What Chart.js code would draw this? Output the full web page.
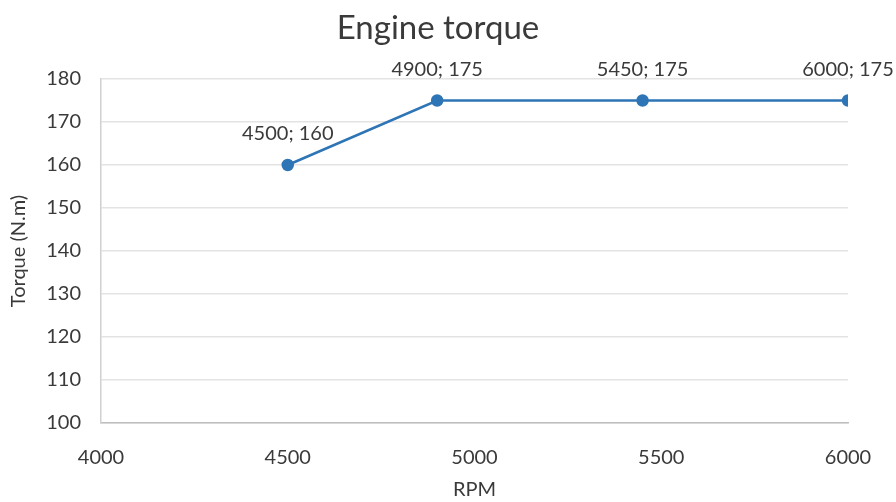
<!DOCTYPE html>
<html>
<head>
<meta charset="utf-8">
<script src="https://cdn.jsdelivr.net/npm/chart.js@4"></script>
<style>
    html, body { margin: 0; padding: 0; background: #fff; }
    #wrap { width: 896px; height: 502px; }
</style>
</head>
<body>
<div id="wrap"><canvas id="myChart" width="896" height="502"></canvas></div>
<script>
const rpm = [4500, 4900, 5450, 6000];
const torque = [160, 175, 175, 175];
const xTicks = [4000, 4500, 5000, 5500, 6000];
const yTicks = [100, 110, 120, 130, 140, 150, 160, 170, 180];
const chartTitle = 'Engine torque';

const fontFamily = 'Lato, "Open Sans", sans-serif';
const textColor = '#3a3a3a';

// draw "x; y" above each point, plus the title (slightly right of centre like the original)
const pointLabels = {
    id: 'pointLabels',
    afterDatasetsDraw(chart) {
        const ctx = chart.ctx;
        const meta = chart.getDatasetMeta(0);
        ctx.save();
        ctx.fillStyle = textColor;
        ctx.textAlign = 'center';
        ctx.textBaseline = 'middle';
        ctx.font = '33px ' + fontFamily;
        ctx.fillText(chartTitle, 438, 28);
        ctx.font = '20px ' + fontFamily;
        meta.data.forEach((pt, i) => {
            ctx.fillText(rpm[i] + '; ' + torque[i], pt.x, pt.y - 31);
        });
        ctx.restore();
    }
};

const ctx = document.getElementById('myChart').getContext('2d');

new Chart(ctx, {
    type: 'line',
    data: {
        datasets: [{
            data: rpm.map((x, i) => ({ x: x, y: torque[i] })),
            borderColor: '#2e75b6',
            backgroundColor: '#2e75b6',
            borderWidth: 2.5,
            pointRadius: 5,
            pointHoverRadius: 5,
            tension: 0
        }]
    },
    options: {
        responsive: false,
        animation: false,
        layout: { padding: { left: 0, right: 48, top: 79, bottom: 0 } },
        plugins: {
            legend: { display: false },
            tooltip: { enabled: false },
            title: { display: false }
        },
        scales: {
            x: {
                type: 'linear',
                min: 4000,
                max: 6000,
                afterBuildTicks: scale => { scale.ticks = xTicks.map(v => ({ value: v })); },
                afterFit: scale => { scale.height = 79; },
                grid: { display: false },
                border: { display: true, color: '#bfbfbf', width: 1.5 },
                ticks: {
                    color: textColor,
                    font: { family: fontFamily, size: 20 },
                    padding: 15,
                    maxRotation: 0,
                    callback: v => String(v)
                },
                title: {
                    display: true,
                    text: 'RPM',
                    color: textColor,
                    font: { family: fontFamily, size: 20 },
                    padding: { top: 4, bottom: 0 }
                }
            },
            y: {
                min: 100,
                max: 180,
                afterBuildTicks: scale => { scale.ticks = yTicks.map(v => ({ value: v })); },
                afterFit: scale => { scale.width = 101; },
                grid: { color: '#e3e3e3', lineWidth: 1.5, drawTicks: false },
                border: { display: true, color: '#d0d0d0', width: 1.5 },
                ticks: {
                    color: textColor,
                    font: { family: fontFamily, size: 20 },
                    padding: 20,
                    callback: v => String(v)
                },
                title: {
                    display: true,
                    text: 'Torque (N.m)',
                    color: textColor,
                    font: { family: fontFamily, size: 20 },
                    padding: { top: 7, bottom: 0 }
                }
            }
        }
    },
    plugins: [pointLabels]
});
</script>
</body>
</html>
